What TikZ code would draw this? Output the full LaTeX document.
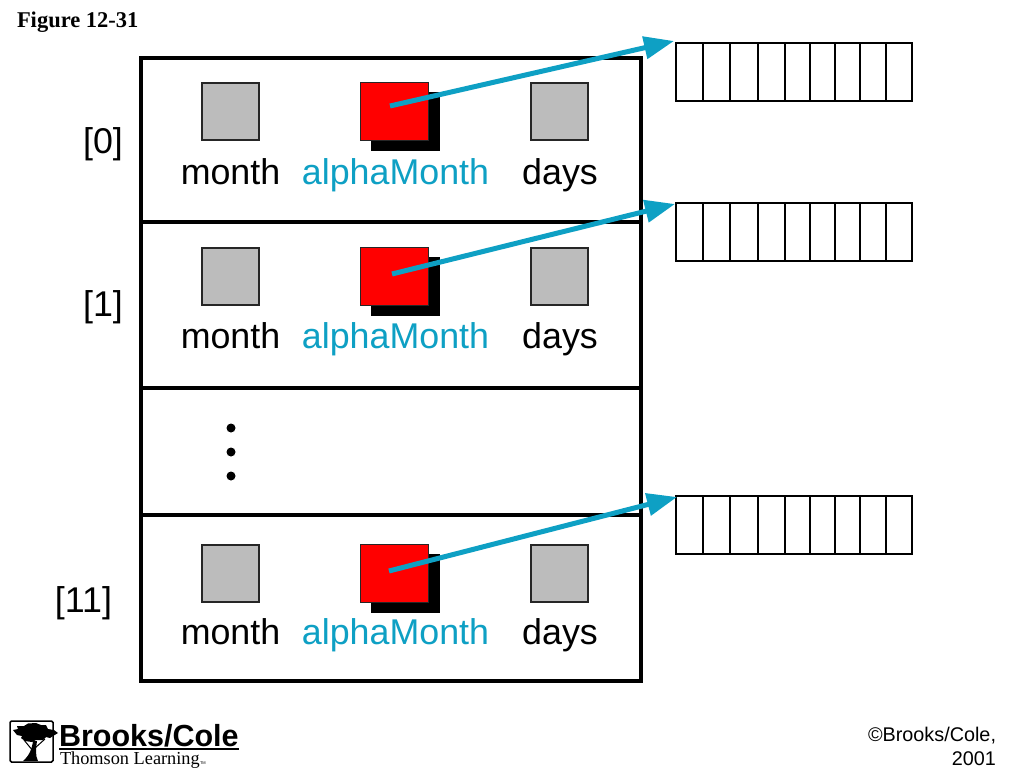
\documentclass[tikz,border=0pt]{standalone}
\usepackage{fontspec}
\setmainfont{Liberation Sans}
\newfontfamily\serifface{Liberation Serif}
\usetikzlibrary{arrows.meta}
\definecolor{teal}{RGB}{14,160,196}
\definecolor{graybox}{RGB}{188,188,188}
\definecolor{redbox}{RGB}{255,0,0}
\tikzset{
  x=1pt,y=-1pt,
  every node/.append style={outer sep=0pt},
  rowbox/.style={draw=black,line width=3.8pt,fill=white,minimum width=500pt,inner sep=0pt,anchor=north west},
  graysq/.style={draw=black!85,line width=2pt,fill=graybox,minimum width=57pt,minimum height=57pt,inner sep=0pt},
  redsq/.style={draw=black!85,line width=1pt,fill=redbox,minimum width=68pt,minimum height=58pt,inner sep=0pt},
  shadowsq/.style={fill=black,minimum width=69pt,minimum height=59pt,inner sep=0pt},
  cell/.style={draw=black,line width=1.6pt,fill=white,minimum height=58pt,inner sep=0pt,anchor=north west},
  lab/.style={font=\fontsize{35.8}{40}\selectfont,anchor=base,inner sep=0pt},
  bluelab/.style={lab,text=teal},
  dotmark/.style={circle,fill=black,minimum size=9pt,inner sep=0pt},
  link/.style={draw=teal,line width=5pt,-{Triangle[length=30pt,width=22pt]}},
}
\begin{document}
\begin{tikzpicture}
\useasboundingbox (0,0) rectangle (1024,768);
\node[anchor=base west,inner sep=0pt,font=\serifface\bfseries\fontsize{22.5}{24}\selectfont] (fig) at (17,28) {Figure 12-31};
% array rows
\node[rowbox,minimum height=164pt] (row0) at (141,58) {};
\node[rowbox,minimum height=166pt] (row1) at (141,222) {};
\node[rowbox,minimum height=127pt] (rowd) at (141,388) {};
\node[rowbox,minimum height=166pt] (row2) at (141,515) {};
% index labels
\node[lab] (i0) at (103,153) {[0]};
\node[lab] (i1) at (103,316) {[1]};
\node[lab] (i2) at (83.5,612) {[11]};
% row contents
\foreach \r/\t/\b in {0/82/184,1/246.5/348,2/543.5/644}{
  \node[graysq] (m\r) at (230.5,\t+29.5) {};
  \node[shadowsq] (sh\r) at (405,\t+39.5) {};
  \node[redsq] (p\r) at (394.5,\t+29.5) {};
  \node[graysq] (d\r) at (559.5,\t+29.5) {};
  \node[lab] (lm\r) at (230.5,\b) {month};
  \node[bluelab] (la\r) at (395.5,\b) {alphaMonth};
  \node[lab] (ld\r) at (560,\b) {days};
}
\node[dotmark] (dot1) at (231,428) {};
\node[dotmark] (dot2) at (231,452) {};
\node[dotmark] (dot3) at (231,476) {};
% character arrays
\foreach \r/\t in {0/43,1/203,2/496}{
  \foreach \c/\x/\w in {0/676/27,1/703/27,2/730/28,3/758/27,4/785/25,5/810/25,6/835/25,7/860/26,8/886/26}{
    \node[cell,minimum width=\w pt] (c\r-\c) at (\x,\t) {};
  }
}
% arrows
\coordinate (s0) at (390,106); \coordinate (t0) at (674,41);
\coordinate (s1) at (392,274); \coordinate (t1) at (675,204);
\coordinate (s2) at (389,571); \coordinate (t2) at (677,497);
\draw[link] (s0) -- (t0);
\draw[link] (s1) -- (t1);
\draw[link] (s2) -- (t2);
% copyright
\node[anchor=base east,inner sep=0pt,font=\fontsize{19.8}{24}\selectfont] (copy1) at (996,741) {©Brooks/Cole,};
\node[anchor=base east,inner sep=0pt,font=\fontsize{19.8}{24}\selectfont] (copy2) at (996,765) {2001};
% logo
\draw[black,line width=1.5pt,rounded corners=1.5pt] (10,721) rectangle (53,762);
\fill[black] (13,730) -- (18,729) -- (17,726) -- (24,726) -- (28,723.5) -- (36,723) -- (41,725) -- (46,725) -- (48,729)
  -- (54,730) -- (58,733) -- (53,736) -- (50,738) -- (46,737) -- (43,740) -- (36,740) -- (32,742)
  -- (25,741) -- (21,738) -- (22,736) -- (17,735) -- cycle;
\fill[black] (23,761) .. controls (28,757) and (32,750) .. (33,741) -- (37,741)
  .. controls (36,748) and (35,755) .. (38,761) -- cycle;
\draw[black,line width=1pt] (24,740) -- (33,751);
\draw[black,line width=1pt] (45,739) -- (35,748);
\node[anchor=base west,inner sep=0pt,font=\bfseries\fontsize{30.5}{34}\selectfont] (logo) at (59,746) {Brooks/Cole};
\draw[black,line width=1.5pt] (59,749) -- (239,749);
\node[anchor=base west,inner sep=0pt,font=\serifface\fontsize{18.3}{20}\selectfont] (thomson) at (60,764) {Thomson Learning};
\node[anchor=base west,inner sep=0pt,font=\fontsize{4}{5}\selectfont] (tm) at (200,764) {TM};
\end{tikzpicture}
\end{document}
